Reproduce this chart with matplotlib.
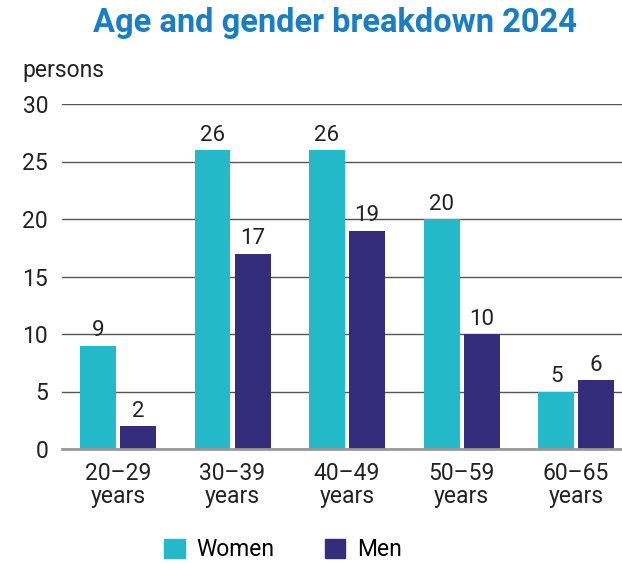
import numpy as np
import matplotlib.pyplot as plt
from matplotlib.patches import Patch

plt.rcParams['font.family'] = ['Roboto', 'DejaVu Sans']

age_groups = ['20\u201329\nyears', '30\u201339\nyears', '40\u201349\nyears', '50\u201359\nyears', '60\u201365\nyears']
women = [9, 26, 26, 20, 5]
men = [2, 17, 19, 10, 6]

women_color = '#23B9C9'
men_color = '#332D7C'

fig = plt.figure(figsize=(6.22, 5.63), dpi=100)
ax = fig.add_axes([62 / 622, 1 - 449 / 563, 560 / 622, 345 / 563])

x = np.arange(len(age_groups))
w = 0.314
off = 0.175
b1 = ax.bar(x - off, women, w, color=women_color, zorder=3)
b2 = ax.bar(x + off, men, w, color=men_color, zorder=3)

for bars, vals in ((b1, women), (b2, men)):
    for bar, v in zip(bars, vals):
        ax.annotate(str(v), (bar.get_x() + bar.get_width() / 2, v),
                    textcoords='offset points', xytext=(0, 3), ha='center', va='bottom',
                    fontsize=16, color='#222222')

ax.set_xlim(-0.489, 4.40)
ax.set_ylim(0, 30)
ax.set_yticks(range(0, 31, 5))
ax.yaxis.grid(True, color='#555555', linewidth=1.0, zorder=0)
ax.set_xticks(x)
ax.set_xticklabels(age_groups, fontsize=16.5, color='#222222', linespacing=1.05)
ax.tick_params(axis='y', length=0, pad=10, labelsize=16.5, labelcolor='#222222')
ax.tick_params(axis='x', length=0, pad=9)
for s in ['top', 'right', 'left']:
    ax.spines[s].set_visible(False)
ax.spines['bottom'].set_color('#999999')
ax.spines['bottom'].set_linewidth(2)
ax.spines['bottom'].set_zorder(4)

fig.text(22 / 622, 1 - 71 / 563, 'persons', fontsize=16.5, color='#222222', va='center', ha='left')
fig.text(335 / 622, 1 - 23 / 563, 'Age and gender breakdown 2024', fontsize=23.5, fontweight='bold',
         color='#1A7EC4', ha='center', va='center')

handles = [Patch(color=women_color, label='Women'), Patch(color=men_color, label='Men')]
fig.legend(handles=handles, loc='center', bbox_to_anchor=(283 / 622, 1 - 550 / 563), ncol=2,
           frameon=False, fontsize=16.5, handlelength=0.9, handleheight=0.9, columnspacing=2.2,
           handletextpad=0.5)

fig.savefig('out.png', dpi=100)
